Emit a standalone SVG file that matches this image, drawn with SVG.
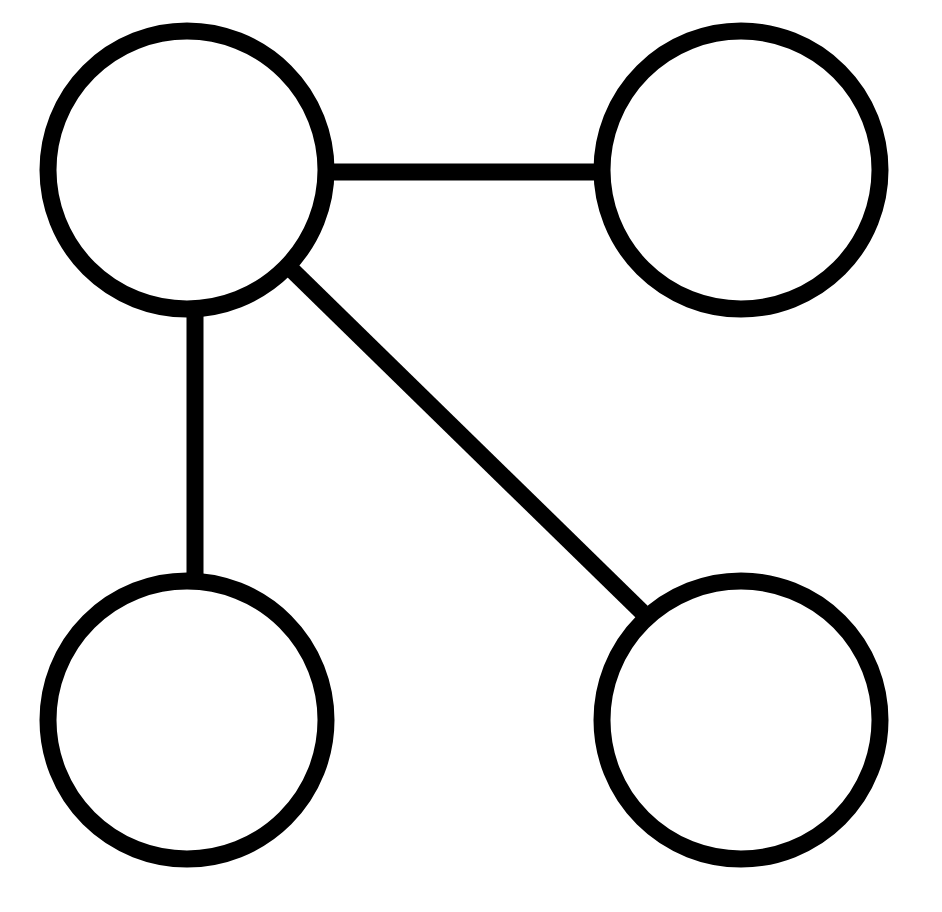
<svg xmlns="http://www.w3.org/2000/svg" width="942" height="912" viewBox="0 0 942 912">
<style>
.node{fill:#fff;stroke:#000;stroke-width:17}
.edge{stroke:#000;stroke-width:17;fill:none}
</style>
<rect width="942" height="912" fill="#fff"/>
<g id="edges">
<line class="edge" x1="330" y1="172" x2="598" y2="172"/>
<line class="edge" x1="195" y1="310" x2="195" y2="580"/>
<line class="edge" x1="292" y1="270" x2="642" y2="612"/>
</g>
<g id="n1"><circle class="node" cx="187" cy="170" r="139"/></g>
<g id="n2"><circle class="node" cx="741" cy="170" r="139"/></g>
<g id="n3"><circle class="node" cx="187" cy="720" r="139"/></g>
<g id="n4"><circle class="node" cx="741" cy="720" r="139"/></g>
</svg>
